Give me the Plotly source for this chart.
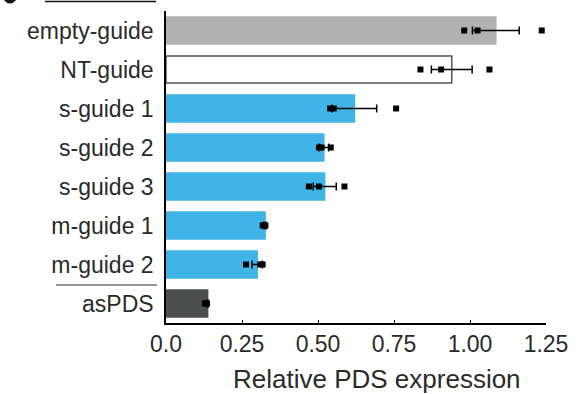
import plotly.graph_objects as go

categories = ["empty-guide", "NT-guide", "s-guide 1", "s-guide 2", "s-guide 3",
              "m-guide 1", "m-guide 2", "asPDS"]
bar_means = [1.085, 0.94, 0.62, 0.519, 0.522, 0.326, 0.30, 0.137]
error_sem = [0.077, 0.067, 0.073, 0.016, 0.038, 0.004, 0.017, 0.002]
replicate_1 = [0.981, 0.837, 0.540, 0.503, 0.470, 0.318, 0.263, 0.128]
replicate_2 = [1.025, 0.905, 0.552, 0.512, 0.503, 0.323, 0.310, 0.132]
replicate_3 = [1.236, 1.064, 0.757, 0.542, 0.587, 0.327, 0.318, 0.135]
bar_colors = ["#b1b1b1", "#ffffff", "#41b4e7", "#41b4e7", "#41b4e7",
              "#41b4e7", "#41b4e7", "#4d4f4f"]
bar_line_colors = ["#b1b1b1", "#555555", "#41b4e7", "#41b4e7", "#41b4e7",
                   "#41b4e7", "#41b4e7", "#4d4f4f"]
x_tickvals = [0, 0.25, 0.5, 0.75, 1.0, 1.25]
x_ticktext = ["0.0", "0.25", "0.50", "0.75", "1.00", "1.25"]
x_title = "Relative PDS expression"

FONT = "Liberation Sans, Arial, sans-serif"
TXT = "#2a2a2a"

PL, PR, PT, PB = 166, 546, 11, 323
PW, PH = PR - PL, PB - PT


def px(xp):
    return (xp - PL) / PW


def py(yp):
    return (PB - yp) / PH


fig = go.Figure()
fig.add_trace(go.Bar(
    y=categories, x=bar_means, orientation="h",
    marker=dict(color=bar_colors, line=dict(color=bar_line_colors, width=1.5)),
    error_x=dict(type="data", array=error_sem, visible=True,
                 color="black", thickness=1.5, width=4),
    showlegend=False, hoverinfo="x+y",
))
pts_x, pts_y = [], []
for reps in (replicate_1, replicate_2, replicate_3):
    pts_x += reps
    pts_y += categories
fig.add_trace(go.Scatter(
    x=pts_x, y=pts_y, mode="markers",
    marker=dict(symbol="square", size=6, color="black"),
    showlegend=False,
))

fig.update_layout(
    width=577, height=394,
    margin=dict(l=PL, r=577 - PR, t=PT, b=394 - PB, autoexpand=False),
    paper_bgcolor="white", plot_bgcolor="white",
    bargap=0.31,
    font=dict(family=FONT, color=TXT),
    xaxis=dict(
        range=[0, 1.25], tickvals=x_tickvals, ticktext=x_ticktext,
        showgrid=False, zeroline=False, automargin=False,
        showline=True, linecolor="black", linewidth=1.5,
        ticks="inside", ticklen=3, tickcolor="black", tickwidth=1.2,
        tickfont=dict(size=23, family=FONT, color=TXT),
    ),
    yaxis=dict(
        categoryorder="array", categoryarray=categories,
        range=[7.5, -0.5], automargin=False,
        showgrid=False, zeroline=False,
        showline=True, linecolor="black", linewidth=1.5,
        ticks="", ticklabelstandoff=6,
        tickfont=dict(size=23, family=FONT, color=TXT),
    ),
    annotations=[
        dict(text=x_title, xref="paper", yref="paper",
             x=px(377), y=py(379), xanchor="center", yanchor="middle",
             showarrow=False, font=dict(size=26, family=FONT, color=TXT)),
    ],
    shapes=[
        dict(type="line", xref="paper", yref="paper",
             x0=px(56), x1=px(157), y0=py(285), y1=py(285),
             line=dict(color="#333333", width=1.2)),
        dict(type="line", xref="paper", yref="paper",
             x0=px(45), x1=px(156), y0=py(1.5), y1=py(1.5),
             line=dict(color="#111111", width=1.5)),
        dict(type="path", xref="paper", yref="paper",
             path=(f"M {px(3)},{py(-1)} Q {px(10)},{py(8)} {px(17)},{py(-1)} Z"),
             fillcolor="#111111", line=dict(width=0)),
    ],
)

fig.write_html(
    "out.html",
    config={"displayModeBar": False},
    post_script="document.body.style.margin='0';document.body.style.padding='0';",
)
